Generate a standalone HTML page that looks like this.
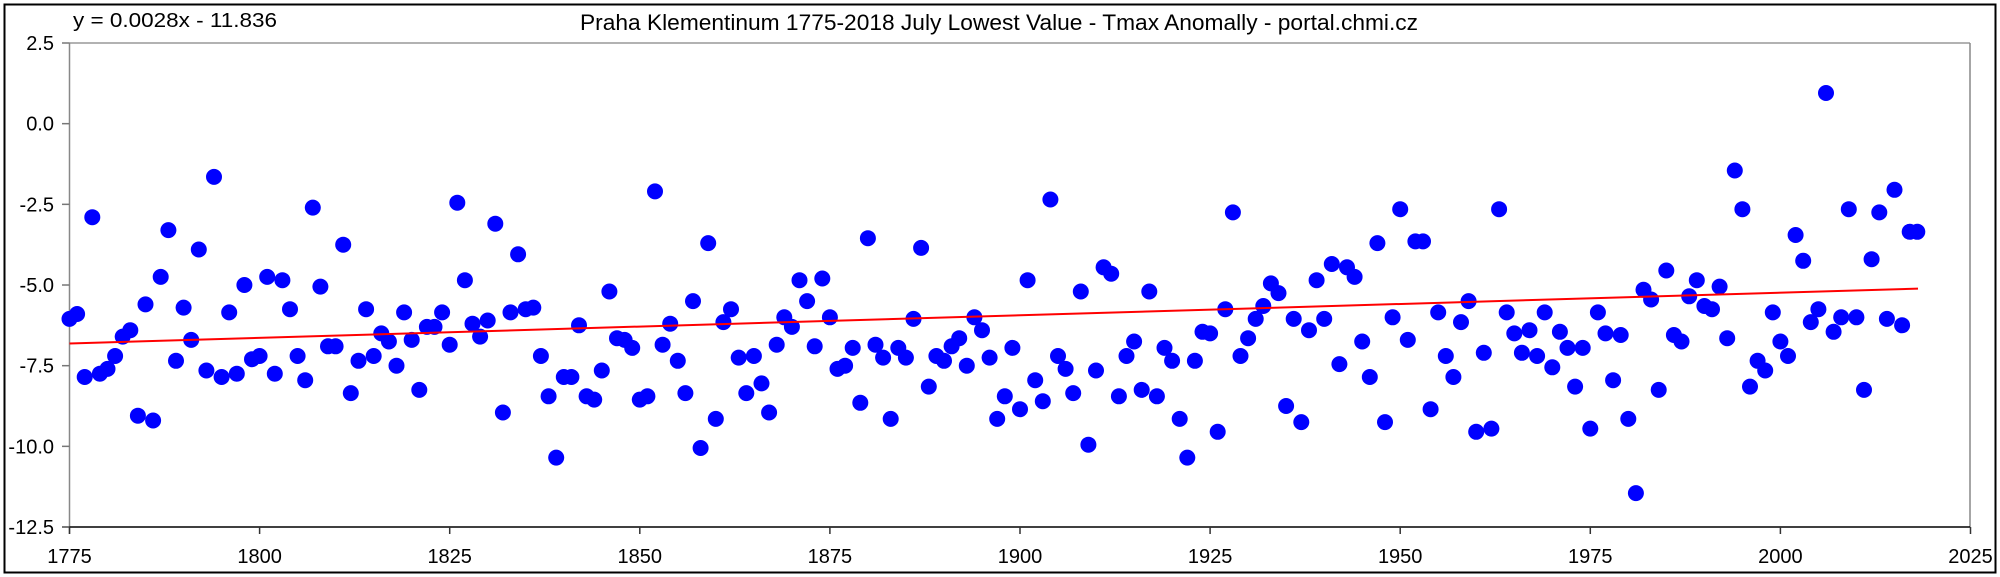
<!DOCTYPE html>
<html><head><meta charset="utf-8"><style>
html,body{margin:0;padding:0;background:#fff;width:2000px;height:577px;overflow:hidden}
svg text{font-family:"Liberation Sans",Arial,sans-serif;fill:#000}
</style></head><body>
<svg id="s" width="2000" height="577" xmlns="http://www.w3.org/2000/svg">
<rect x="0" y="0" width="2000" height="577" fill="#fff"/>
<rect x="4.5" y="4.5" width="1991" height="568" fill="none" stroke="#000" stroke-width="2"/>
<text x="73" y="27" font-size="20" textLength="204" lengthAdjust="spacingAndGlyphs">y = 0.0028x - 11.836</text>
<text x="580" y="30" font-size="22" textLength="838" lengthAdjust="spacingAndGlyphs">Praha Klementinum 1775-2018 July Lowest Value - Tmax Anomally - portal.chmi.cz</text>
<line x1="69.5" y1="43" x2="1970" y2="43" stroke="#999" stroke-width="1.5"/>
<line x1="1970" y1="43" x2="1970" y2="527" stroke="#888" stroke-width="1.5"/>
<line x1="69.5" y1="43" x2="69.5" y2="534" stroke="#888" stroke-width="1.5"/>
<line x1="62" y1="527" x2="1970" y2="527" stroke="#000" stroke-width="1.5"/>
<g id="ax"></g>
<g id="pts" fill="#0000ff"></g>
<line x1="69.5" y1="343.5" x2="1918" y2="288.6" stroke="#ff0000" stroke-width="2"/>
</svg>
<script>
var v=[-6.05,-5.9,-7.85,-2.9,-7.75,-7.6,-7.2,-6.6,-6.4,-9.05,-5.6,-9.2,-4.75,-3.3,-7.35,-5.7,-6.7,-3.9,-7.65,-1.65,-7.85,-5.85,-7.75,-5.0,-7.3,-7.2,-4.75,-7.75,-4.85,-5.75,-7.2,-7.95,-2.6,-5.05,-6.9,-6.9,-3.75,-8.35,-7.35,-5.75,-7.2,-6.5,-6.75,-7.5,-5.85,-6.7,-8.25,-6.3,-6.3,-5.85,-6.85,-2.45,-4.85,-6.2,-6.6,-6.1,-3.1,-8.95,-5.85,-4.05,-5.75,-5.7,-7.2,-8.45,-10.35,-7.85,-7.85,-6.25,-8.45,-8.55,-7.65,-5.2,-6.65,-6.7,-6.95,-8.55,-8.45,-2.1,-6.85,-6.2,-7.35,-8.35,-5.5,-10.05,-3.7,-9.15,-6.15,-5.75,-7.25,-8.35,-7.2,-8.05,-8.95,-6.85,-6.0,-6.3,-4.85,-5.5,-6.9,-4.8,-6.0,-7.6,-7.5,-6.95,-8.65,-3.55,-6.85,-7.25,-9.15,-6.95,-7.25,-6.05,-3.85,-8.15,-7.2,-7.35,-6.9,-6.65,-7.5,-6.0,-6.4,-7.25,-9.15,-8.45,-6.95,-8.85,-4.85,-7.95,-8.6,-2.35,-7.2,-7.6,-8.35,-5.2,-9.95,-7.65,-4.45,-4.65,-8.45,-7.2,-6.75,-8.25,-5.2,-8.45,-6.95,-7.35,-9.15,-10.35,-7.35,-6.45,-6.5,-9.55,-5.75,-2.75,-7.2,-6.65,-6.05,-5.65,-4.95,-5.25,-8.75,-6.05,-9.25,-6.4,-4.85,-6.05,-4.35,-7.45,-4.45,-4.75,-6.75,-7.85,-3.7,-9.25,-6.0,-2.65,-6.7,-3.65,-3.65,-8.85,-5.85,-7.2,-7.85,-6.15,-5.5,-9.55,-7.1,-9.45,-2.65,-5.85,-6.5,-7.1,-6.4,-7.2,-5.85,-7.55,-6.45,-6.95,-8.15,-6.95,-9.45,-5.85,-6.5,-7.95,-6.55,-9.15,-11.45,-5.15,-5.45,-8.25,-4.55,-6.55,-6.75,-5.35,-4.85,-5.65,-5.75,-5.05,-6.65,-1.45,-2.65,-8.15,-7.35,-7.65,-5.85,-6.75,-7.2,-3.45,-4.25,-6.15,-5.75,0.95,-6.45,-6.0,-2.65,-6.0,-8.25,-4.2,-2.75,-6.05,-2.05,-6.25,-3.35,-3.35];
var NS="http://www.w3.org/2000/svg";
function X(yr){return 69.5+(yr-1775)*7.604;}
function Y(val){return 43+(2.5-val)*32.267;}
var g=document.getElementById("pts");
for(var i=0;i<v.length;i++){var c=document.createElementNS(NS,"circle");c.setAttribute("cx",X(1775+i).toFixed(1));c.setAttribute("cy",Y(v[i]).toFixed(1));c.setAttribute("r","8");g.appendChild(c);}
var a=document.getElementById("ax");
var yl=["2.5","0.0","-2.5","-5.0","-7.5","-10.0","-12.5"];
for(var k=0;k<7;k++){var yy=43+k*80.67;
 var l=document.createElementNS(NS,"line");l.setAttribute("x1",62);l.setAttribute("x2",69.5);l.setAttribute("y1",yy);l.setAttribute("y2",yy);l.setAttribute("stroke","#777");l.setAttribute("stroke-width","1.5");a.appendChild(l);
 var t=document.createElementNS(NS,"text");t.setAttribute("x",54);t.setAttribute("y",yy+7);t.setAttribute("font-size","20");t.setAttribute("text-anchor","end");t.textContent=yl[k];a.appendChild(t);}
for(var k=0;k<11;k++){var yr=1775+k*25;var xx=X(yr);
 var l=document.createElementNS(NS,"line");l.setAttribute("x1",xx);l.setAttribute("x2",xx);l.setAttribute("y1",527);l.setAttribute("y2",534);l.setAttribute("stroke","#333");l.setAttribute("stroke-width","1.5");a.appendChild(l);
 var t=document.createElementNS(NS,"text");t.setAttribute("x",xx);t.setAttribute("y",563);t.setAttribute("font-size","20");t.setAttribute("text-anchor","middle");t.textContent=yr;a.appendChild(t);}
</script>
</body></html>
